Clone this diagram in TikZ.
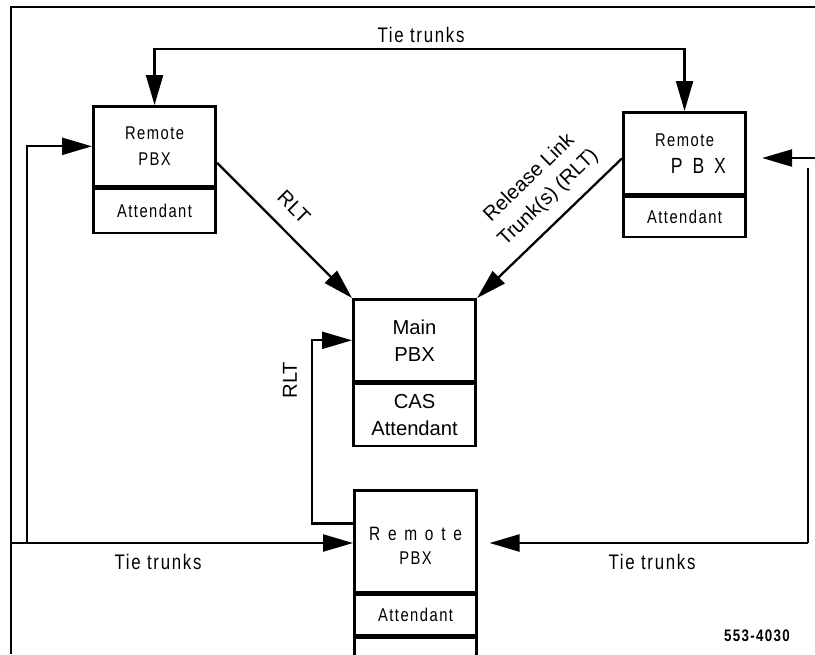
\documentclass[tikz,border=0pt]{standalone}
\usepackage{fontspec}
\setmainfont{Liberation Sans}
\newfontfamily\condfont[FakeStretch=0.8,LetterSpace=8]{Liberation Sans}
\newfontfamily\widefont[FakeStretch=0.8,LetterSpace=40]{Liberation Sans}
\usetikzlibrary{arrows.meta,positioning,calc}
\tikzset{
    part/.style={draw, line width=1.5pt, minimum width=2.45cm, inner sep=0pt, align=center},
    trunk/.style={line width=1.3pt, -{Triangle[length=0.6cm,width=0.34cm]}},
    cond/.style={font=\condfont\fontsize{10.5}{14.5}\selectfont},
    plain/.style={font=\fontsize{11.5}{15.5}\selectfont}
}
\begin{document}
\begin{tikzpicture}[x=0.02cm, y=-0.02cm]
    \useasboundingbox (0,0) rectangle (815,654);
    \clip (0,0) rectangle (815,654);

    % frame
    \draw[line width=1.3pt] (815,7) -- (11,7) -- (11,654);

    % remote PBX, left
    \node[part, cond, minimum height=1.6cm, anchor=north west] (ltop) at (92,105) {Remote\\PBX};
    \node[part, cond, minimum height=0.88cm, below=0pt of ltop] (lbot) {Attendant};

    % remote PBX, right
    \node[part, cond, minimum height=1.64cm, anchor=north west] (rtop) at (622,111)
        {Remote\\[1pt]\hspace*{1.5em}{\fontsize{12.5}{14.5}\selectfont P\hspace{0.45em}B\hspace{0.45em}X}};
    \node[part, cond, minimum height=0.8cm, below=0pt of rtop] (rbot) {Attendant};

    % main PBX
    \node[part, plain, minimum height=1.64cm, anchor=north west] (mtop) at (352,298) {Main\\PBX};
    \node[part, plain, minimum height=1.24cm, below=0pt of mtop] (mbot) {CAS\\Attendant};

    % remote PBX, bottom
    \node[part, cond, minimum height=2.04cm, anchor=north west] (btop) at (353,489)
        {\raisebox{-13pt}[0pt][0pt]{\shortstack{{\widefont\fontsize{11}{13}\selectfont Remote}\\[3pt]PBX}}};
    \node[part, cond, minimum height=0.8cm, below=0pt of btop] (bmid) {Attendant};
    \node[part, minimum height=0.8cm, below=0pt of bmid] (bend) {};

    % tie trunks
    \coordinate (tietop) at (421,49);
    \draw[trunk, {Triangle[length=0.6cm,width=0.34cm]}-{Triangle[length=0.6cm,width=0.34cm]}]
        (ltop.north) -- (ltop.north |- tietop) -- (rtop.north |- tietop) -- (rtop.north);
    \node[font=\condfont\fontsize{12}{13}\selectfont] (tietxt) at (421,35) {Tie trunks};

    \coordinate (lfoot) at (11,543);
    \coordinate (lcorner) at (27,543);
    \draw[trunk] (lfoot) -- (btop.west |- lfoot);
    \draw[trunk] (lcorner) -- (lcorner |- ltop.west) -- (ltop.west);
    \node[font=\condfont\fontsize{12}{13}\selectfont] (tieleft) at (158,562) {Tie trunks};

    \coordinate (rfoot) at (808,543);
    \coordinate (rtopend) at (808,168);
    \coordinate (redge) at (815,158);
    \draw[line width=1.3pt] (rtopend) -- (rfoot);
    \draw[trunk, shorten >=5\pgflinewidth] (rfoot) -- (btop.east |- rfoot);
    \draw[trunk, shorten >=0.3cm] (redge) -- (rtop.east |- redge);
    \node[font=\condfont\fontsize{12}{13}\selectfont] (tieright) at (652,562) {Tie trunks};

    % release link trunks
    \draw[trunk] ($(ltop.north east)!0.7!(ltop.south east)$) -- (mtop.north west);
    \node[plain, rotate=-45] (rltleft) at (294,207) {RLT};
    \draw[trunk] ($(rtop.north west)!0.56!(rtop.south west)$) -- (mtop.north east);
    \node[plain, rotate=44, align=center] (rltright) at (539,188) {Release Link\\Trunk(s) (RLT)};
    \draw[trunk] ($(btop.north west)!0.33!(btop.south west)$) -- ++(-41,0) |- (mtop.west);
    \node[plain, rotate=90] (rltbot) at (290,380) {RLT};

    \node[font=\condfont\fontsize{9.5}{10}\selectfont\bfseries] (figno) at (757,636) {553-4030};
\end{tikzpicture}
\end{document}
